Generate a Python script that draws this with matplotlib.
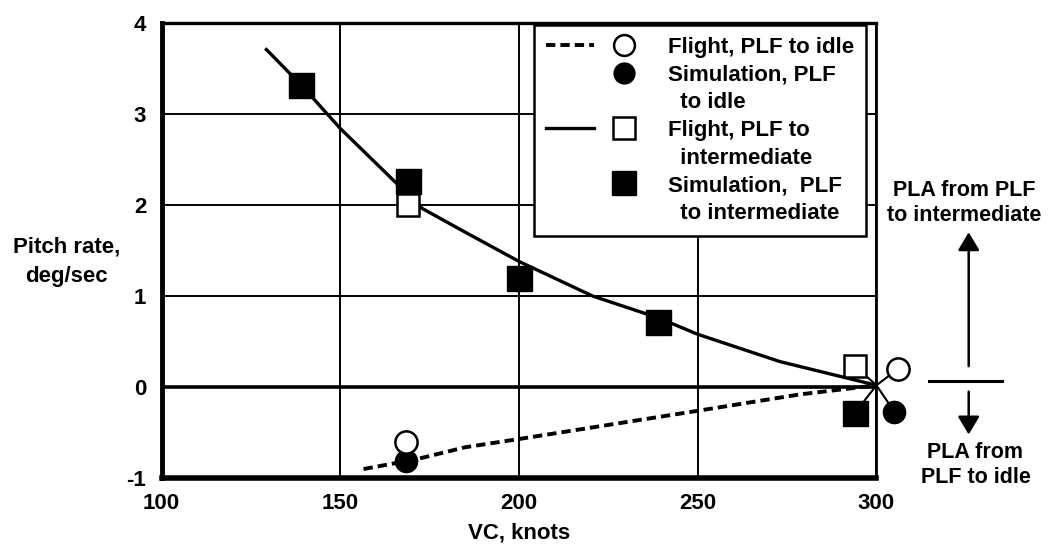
import matplotlib
matplotlib.use('Agg')
import matplotlib.pyplot as plt
from matplotlib.lines import Line2D
from matplotlib.legend_handler import HandlerTuple

plt.rcParams['font.family'] = 'Liberation Sans'
plt.rcParams['font.weight'] = 'bold'
plt.rcParams['axes.unicode_minus'] = False

# faired curves, pitch rate (deg/sec) vs VC (knots)
fit_int_vc = [129, 139, 150, 173, 185, 200, 220.6, 239, 250, 273, 300]
fit_int_rate = [3.72, 3.32, 2.84, 1.96, 1.70, 1.38, 1.0, 0.76, 0.58, 0.28, 0.02]
fit_idle_vc = [156.5, 171.5, 185, 200, 250, 278.6, 300]
fit_idle_rate = [-0.9, -0.79, -0.66, -0.57, -0.26, -0.08, 0.02]

# PLF to intermediate
sim_int_vc = [139, 169, 200, 239, 294]
sim_int_rate = [3.32, 2.26, 1.2, 0.72, -0.28]
flt_int_vc = [169, 294]
flt_int_rate = [2.0, 0.23]

# PLF to idle
flt_idle_vc = [168.5, 306]
flt_idle_rate = [-0.6, 0.2]
sim_idle_vc = [168.5, 305]
sim_idle_rate = [-0.81, -0.27]

# points at 300 knots are drawn offset, leader lines go to the common point
common_vc = 300
common_rate = 0.02

x_ticks = [100, 150, 200, 250, 300]
y_ticks = [-1, 0, 1, 2, 3, 4]

fs = 16
dash = (0, (2.4, 1.3))

fig = plt.figure(figsize=(10.56, 5.44), dpi=100)
ax = fig.add_axes([0.153, 0.121, 0.677, 0.837])

ax.set_xlim(100, 300)
ax.set_ylim(-1, 4)
ax.set_xticks(x_ticks)
ax.set_yticks(y_ticks)
ax.grid(True, color='black', lw=1.4)
ax.axhline(0, color='black', lw=2.6)
ax.tick_params(length=0, labelsize=16)
ax.tick_params(axis='y', pad=11)
ax.tick_params(axis='x', pad=11)
for lab in ax.get_xticklabels() + ax.get_yticklabels():
    lab.set_fontweight('bold')

ax.spines['left'].set_linewidth(3.5)
ax.spines['bottom'].set_linewidth(4)
ax.spines['top'].set_linewidth(2.4)
ax.spines['right'].set_linewidth(2)

# curves
ax.plot(fit_int_vc, fit_int_rate, color='black', lw=2.4, solid_capstyle='butt', zorder=3)
ax.plot(fit_idle_vc, fit_idle_rate, color='black', lw=2.8, ls=dash, zorder=3)

# leader lines for the offset symbols at 300 knots
for vx, vy in [(sim_int_vc[-1], sim_int_rate[-1]), (flt_int_vc[-1], flt_int_rate[-1]),
               (flt_idle_vc[-1], flt_idle_rate[-1]), (sim_idle_vc[-1], sim_idle_rate[-1])]:
    ax.plot([vx, common_vc], [vy, common_rate], color='black', lw=1.5, clip_on=False, zorder=3)

# symbols
ax.plot(sim_int_vc, sim_int_rate, ls='none', marker='s', ms=18, color='black', zorder=4, clip_on=False)
ax.plot(sim_idle_vc, sim_idle_rate, ls='none', marker='o', ms=16, color='black', zorder=4, clip_on=False)
ax.plot(flt_int_vc, flt_int_rate, ls='none', marker='s', ms=16.5, mfc='white', mec='black', mew=1.8,
        zorder=5, clip_on=False)
ax.plot(flt_idle_vc, flt_idle_rate, ls='none', marker='o', ms=16, mfc='white', mec='black', mew=1.8,
        zorder=5, clip_on=False)

ax.set_xlabel('VC, knots', fontsize=16, fontweight='bold', labelpad=6)
ax.set_ylabel('Pitch rate,\ndeg/sec', fontsize=16, fontweight='bold', rotation=0,
              ha='center', va='center', linespacing=1.5)
ax.yaxis.set_label_coords(-0.133, 0.475)

# legend
blank = Line2D([], [], ls='none')
h1 = (Line2D([], [], color='black', lw=2.8, ls=dash),
      Line2D([], [], ls='none', marker='o', ms=15, mfc='white', mec='black', mew=1.8))
h2 = (Line2D([], [], ls='none'),
      Line2D([], [], ls='none', marker='o', ms=15, color='black'))
h3 = (Line2D([], [], color='black', lw=2.4),
      Line2D([], [], ls='none', marker='s', ms=16, mfc='white', mec='black', mew=1.8))
h4 = (Line2D([], [], ls='none'),
      Line2D([], [], ls='none', marker='s', ms=17, color='black'))
handles = [h1, h2, blank, h3, blank, h4, blank]
labels = ['Flight, PLF to idle', 'Simulation, PLF', '  to idle', 'Flight, PLF to',
          '  intermediate', 'Simulation,  PLF', '  to intermediate']
leg = ax.legend(handles, labels, loc='upper right', bbox_to_anchor=(0.986, 0.996),
                handler_map={tuple: HandlerTuple(ndivide=None, pad=0.3)},
                handlelength=4.6, handletextpad=0.9, labelspacing=0.3,
                borderaxespad=0, borderpad=0.55, fancybox=False, framealpha=1,
                edgecolor='black', prop={'size': fs, 'weight': 'bold'})
leg.get_frame().set_linewidth(1.8)
leg.set_zorder(6)

# PLA arrows to the right of the plot
arrow_vc = 325.8
bar_vc = [314.6, 335]
bar_rate = 0.07
ax.annotate('', xy=(arrow_vc, 1.70), xytext=(arrow_vc, 0.23),
            arrowprops=dict(arrowstyle='-|>,head_length=0.5,head_width=0.3', color='black',
                            lw=1.8, mutation_scale=22, shrinkA=0, shrinkB=0),
            annotation_clip=False)
ax.annotate('', xy=(arrow_vc, -0.52), xytext=(arrow_vc, -0.05),
            arrowprops=dict(arrowstyle='-|>,head_length=0.5,head_width=0.3', color='black',
                            lw=1.8, mutation_scale=22, shrinkA=0, shrinkB=0),
            annotation_clip=False)
ax.plot(bar_vc, [bar_rate, bar_rate], color='black', lw=2.2, clip_on=False)
ax.text(324.6, 2.02, 'PLA from PLF\nto intermediate', ha='center', va='center',
        fontsize=15.5, fontweight='bold', linespacing=1.25, clip_on=False)
ax.text(327.7, -0.85, 'PLA from\nPLF to idle', ha='center', va='center',
        fontsize=15.5, fontweight='bold', linespacing=1.25, clip_on=False)

fig.savefig('out.png', dpi=100)
